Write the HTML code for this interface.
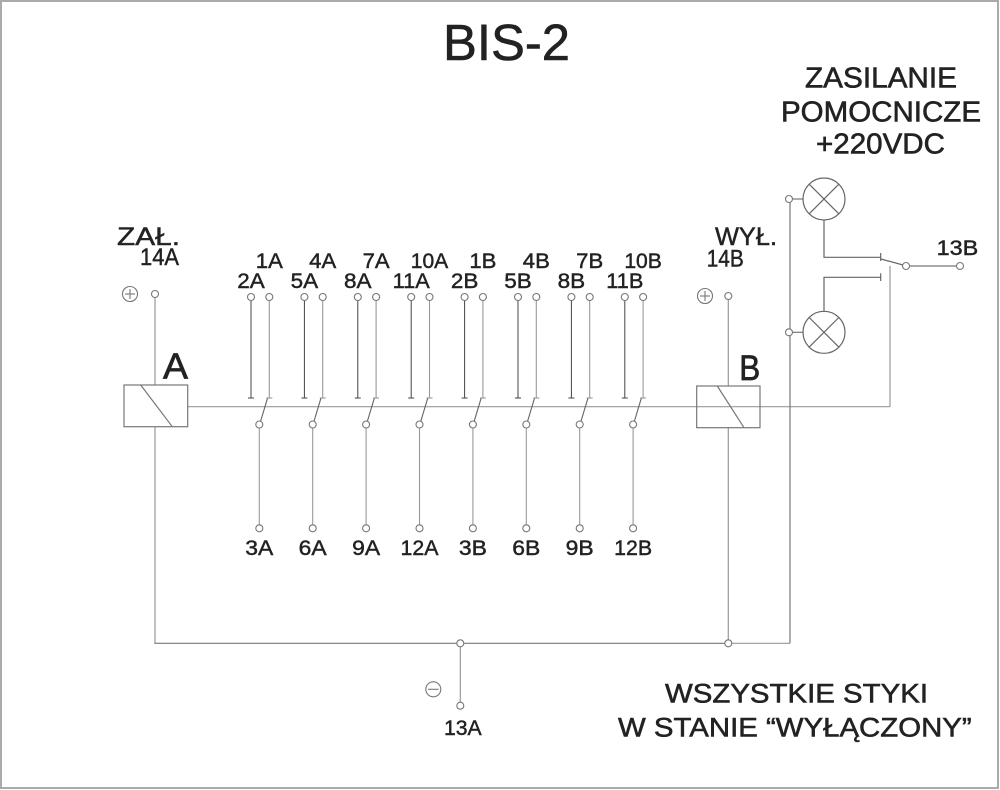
<!DOCTYPE html>
<html>
<head>
<meta charset="utf-8">
<style>
html,body{margin:0;padding:0;background:#fff;}
svg{display:block;}
text{font-family:"Liberation Sans",Arial,sans-serif;fill:#222;stroke:#222;stroke-width:0.45;}
</style>
</head>
<body>
<svg width="1000" height="790" viewBox="0 0 1000 790" xmlns="http://www.w3.org/2000/svg">
<!-- frame -->
<rect x="1" y="1" width="997" height="787" fill="none" stroke="#aaa" stroke-width="2"/>

<!-- titles -->
<text x="443" y="60" font-size="51" textLength="127" lengthAdjust="spacingAndGlyphs" style="stroke-width:0.6">BIS-2</text>
<text x="805" y="87.3" font-size="29" textLength="152" lengthAdjust="spacingAndGlyphs" style="stroke-width:0.6">ZASILANIE</text>
<text x="781" y="121.7" font-size="29" textLength="200" lengthAdjust="spacingAndGlyphs" style="stroke-width:0.6">POMOCNICZE</text>
<text x="816" y="153.3" font-size="29" textLength="129" lengthAdjust="spacingAndGlyphs" style="stroke-width:0.6">+220VDC</text>

<text x="117" y="245" font-size="25" textLength="63" lengthAdjust="spacingAndGlyphs">ZAŁ.</text>
<text x="140" y="265" font-size="24" textLength="39" lengthAdjust="spacingAndGlyphs">14A</text>
<text x="715" y="245" font-size="25" textLength="62" lengthAdjust="spacingAndGlyphs">WYŁ.</text>
<text x="706.7" y="266.7" font-size="24" textLength="37" lengthAdjust="spacingAndGlyphs">14B</text>
<text x="936.7" y="255" font-size="21" textLength="41.6" lengthAdjust="spacingAndGlyphs">13B</text>
<text x="163" y="378.3" font-size="36" textLength="25" lengthAdjust="spacingAndGlyphs" style="stroke-width:0.7">A</text>
<text x="739.3" y="380" font-size="35" textLength="21" lengthAdjust="spacingAndGlyphs" style="stroke-width:0.7">B</text>

<!-- contact labels -->
<g font-size="21" text-anchor="middle">
<text x="269.3" y="268" textLength="27" lengthAdjust="spacingAndGlyphs">1A</text>
<text x="322.7" y="268" textLength="27" lengthAdjust="spacingAndGlyphs">4A</text>
<text x="376.1" y="268" textLength="27" lengthAdjust="spacingAndGlyphs">7A</text>
<text x="429.5" y="268" textLength="37.5" lengthAdjust="spacingAndGlyphs">10A</text>
<text x="482.9" y="268" textLength="27" lengthAdjust="spacingAndGlyphs">1B</text>
<text x="536.3" y="268" textLength="27" lengthAdjust="spacingAndGlyphs">4B</text>
<text x="589.7" y="268" textLength="27" lengthAdjust="spacingAndGlyphs">7B</text>
<text x="643.1" y="268" textLength="37.5" lengthAdjust="spacingAndGlyphs">10B</text>

<text x="251" y="288" textLength="27.5" lengthAdjust="spacingAndGlyphs">2A</text>
<text x="304.4" y="288" textLength="27.5" lengthAdjust="spacingAndGlyphs">5A</text>
<text x="357.8" y="288" textLength="27.5" lengthAdjust="spacingAndGlyphs">8A</text>
<text x="411.2" y="288" textLength="37" lengthAdjust="spacingAndGlyphs">11A</text>
<text x="464.6" y="288" textLength="27.5" lengthAdjust="spacingAndGlyphs">2B</text>
<text x="518" y="288" textLength="27.5" lengthAdjust="spacingAndGlyphs">5B</text>
<text x="571.4" y="288" textLength="27.5" lengthAdjust="spacingAndGlyphs">8B</text>
<text x="624.8" y="288" textLength="37" lengthAdjust="spacingAndGlyphs">11B</text>

<text x="259.3" y="555" textLength="28" lengthAdjust="spacingAndGlyphs">3A</text>
<text x="312.7" y="555" textLength="28" lengthAdjust="spacingAndGlyphs">6A</text>
<text x="366.1" y="555" textLength="28" lengthAdjust="spacingAndGlyphs">9A</text>
<text x="419.5" y="555" textLength="38" lengthAdjust="spacingAndGlyphs">12A</text>
<text x="472.9" y="555" textLength="28" lengthAdjust="spacingAndGlyphs">3B</text>
<text x="526.3" y="555" textLength="28" lengthAdjust="spacingAndGlyphs">6B</text>
<text x="579.7" y="555" textLength="28" lengthAdjust="spacingAndGlyphs">9B</text>
<text x="633.1" y="555" textLength="38" lengthAdjust="spacingAndGlyphs">12B</text>
</g>

<text x="444" y="735" font-size="21" textLength="37.7" lengthAdjust="spacingAndGlyphs">13A</text>
<text x="665" y="702.7" font-size="27" textLength="263" lengthAdjust="spacingAndGlyphs" style="stroke-width:0.55">WSZYSTKIE STYKI</text>
<text x="618" y="736.7" font-size="27" textLength="353.7" lengthAdjust="spacingAndGlyphs" style="stroke-width:0.55">W STANIE “WYŁĄCZONY”</text>

<!-- wiring -->
<g fill="none" stroke="#999" stroke-width="1.2">
  <line x1="187.7" y1="406.7" x2="890" y2="406.7"/>
  <line x1="890" y1="266" x2="890" y2="406.7"/>
  <line x1="155" y1="297.5" x2="155" y2="385"/>
  <line x1="155" y1="426.7" x2="155" y2="643.3"/>
  <line x1="728.3" y1="299.5" x2="728.3" y2="386"/>
  <line x1="728.3" y1="427.7" x2="728.3" y2="639.8"/>
  <line x1="154.4" y1="643.3" x2="456.8" y2="643.3" stroke="#777"/>
  <line x1="463.8" y1="643.3" x2="724.8" y2="643.3" stroke="#777"/>
  <line x1="731.8" y1="643.3" x2="790" y2="643.3"/>
  <line x1="460.3" y1="646.8" x2="460.3" y2="702.2"/>
  <line x1="790" y1="202.5" x2="790" y2="643.3" stroke="#777"/>
  <line x1="792.5" y1="199" x2="803" y2="199" stroke="#777"/>
  <line x1="792.5" y1="332.3" x2="803" y2="332.3" stroke="#777"/>
  <polyline points="824,220 824,257.3 880.7,257.3" stroke="#666"/>
  <polyline points="824,311.3 824,277.3 880.7,277.3" stroke="#666"/>
  <line x1="880.7" y1="253" x2="880.7" y2="261" stroke="#666"/>
  <line x1="880.7" y1="273.3" x2="880.7" y2="281" stroke="#666"/>
  <line x1="881" y1="259" x2="903" y2="265" stroke="#666"/>
  <line x1="909.5" y1="266" x2="956.5" y2="266" stroke="#777"/>
</g>

<!-- coil boxes -->
<g fill="none" stroke="#777" stroke-width="1.2">
  <rect x="124" y="385" width="63.7" height="41.7"/>
  <line x1="140.7" y1="385" x2="172.3" y2="426.7"/>
  <rect x="696.7" y="386" width="63.3" height="41.7"/>
  <line x1="717.3" y1="386" x2="744" y2="427.7"/>
</g>

<!-- lamps -->
<g fill="none" stroke="#666" stroke-width="1.2">
  <circle cx="824" cy="199" r="21"/>
  <line x1="809.2" y1="184.2" x2="838.8" y2="213.8"/>
  <line x1="838.8" y1="184.2" x2="809.2" y2="213.8"/>
  <circle cx="824" cy="332.3" r="21"/>
  <line x1="809.2" y1="317.5" x2="838.8" y2="347.1"/>
  <line x1="838.8" y1="317.5" x2="809.2" y2="347.1"/>
</g>

<!-- plus / minus -->
<g fill="none" stroke="#777" stroke-width="1.1">
  <circle cx="130" cy="294" r="7.5"/>
  <line x1="125" y1="294" x2="135" y2="294"/>
  <line x1="130" y1="289" x2="130" y2="299"/>
  <circle cx="705" cy="296" r="7.5"/>
  <line x1="700" y1="296" x2="710" y2="296"/>
  <line x1="705" y1="291" x2="705" y2="301"/>
  <circle cx="433.3" cy="689.3" r="7.5"/>
  <line x1="428" y1="689.3" x2="438.6" y2="689.3"/>
</g>

<!-- terminal nodes -->
<g fill="#fff" stroke="#777" stroke-width="1.1">
  <circle cx="155" cy="294" r="3.5"/>
  <circle cx="728.3" cy="296" r="3.5"/>
  <circle cx="460.3" cy="643.3" r="3.5"/>
  <circle cx="728.3" cy="643.3" r="3.5"/>
  <circle cx="460.3" cy="705.7" r="3.5"/>
  <circle cx="789" cy="199" r="3.5"/>
  <circle cx="789" cy="332.3" r="3.5"/>
  <circle cx="906" cy="266" r="3.5"/>
  <circle cx="960" cy="266" r="3.5"/>
</g>

<!-- contacts -->
<g id="c0">
  <line x1="251" y1="300.5" x2="251" y2="398" stroke="#444" stroke-width="1"/>
  <line x1="248" y1="398" x2="254" y2="398" stroke="#444" stroke-width="1"/>
  <line x1="269.3" y1="300.5" x2="269.3" y2="398" stroke="#999" stroke-width="1.1"/>
  <line x1="266.3" y1="398" x2="272.3" y2="398" stroke="#999" stroke-width="1.1"/>
  <line x1="267.5" y1="398.3" x2="260.6" y2="421.2" stroke="#666" stroke-width="1.1"/>
  <line x1="259.3" y1="428" x2="259.3" y2="524.8" stroke="#999" stroke-width="1.1"/>
  <g fill="#fff" stroke="#777" stroke-width="1.1">
    <circle cx="251" cy="297" r="3.5"/>
    <circle cx="269.3" cy="297" r="3.5"/>
    <circle cx="259.3" cy="424.5" r="3.5"/>
    <circle cx="259.3" cy="528.3" r="3.5"/>
  </g>
</g>
<use href="#c0" x="53.4"/>
<use href="#c0" x="106.8"/>
<use href="#c0" x="160.2"/>
<use href="#c0" x="213.6"/>
<use href="#c0" x="267"/>
<use href="#c0" x="320.4"/>
<use href="#c0" x="373.8"/>
</svg>
</body>
</html>
